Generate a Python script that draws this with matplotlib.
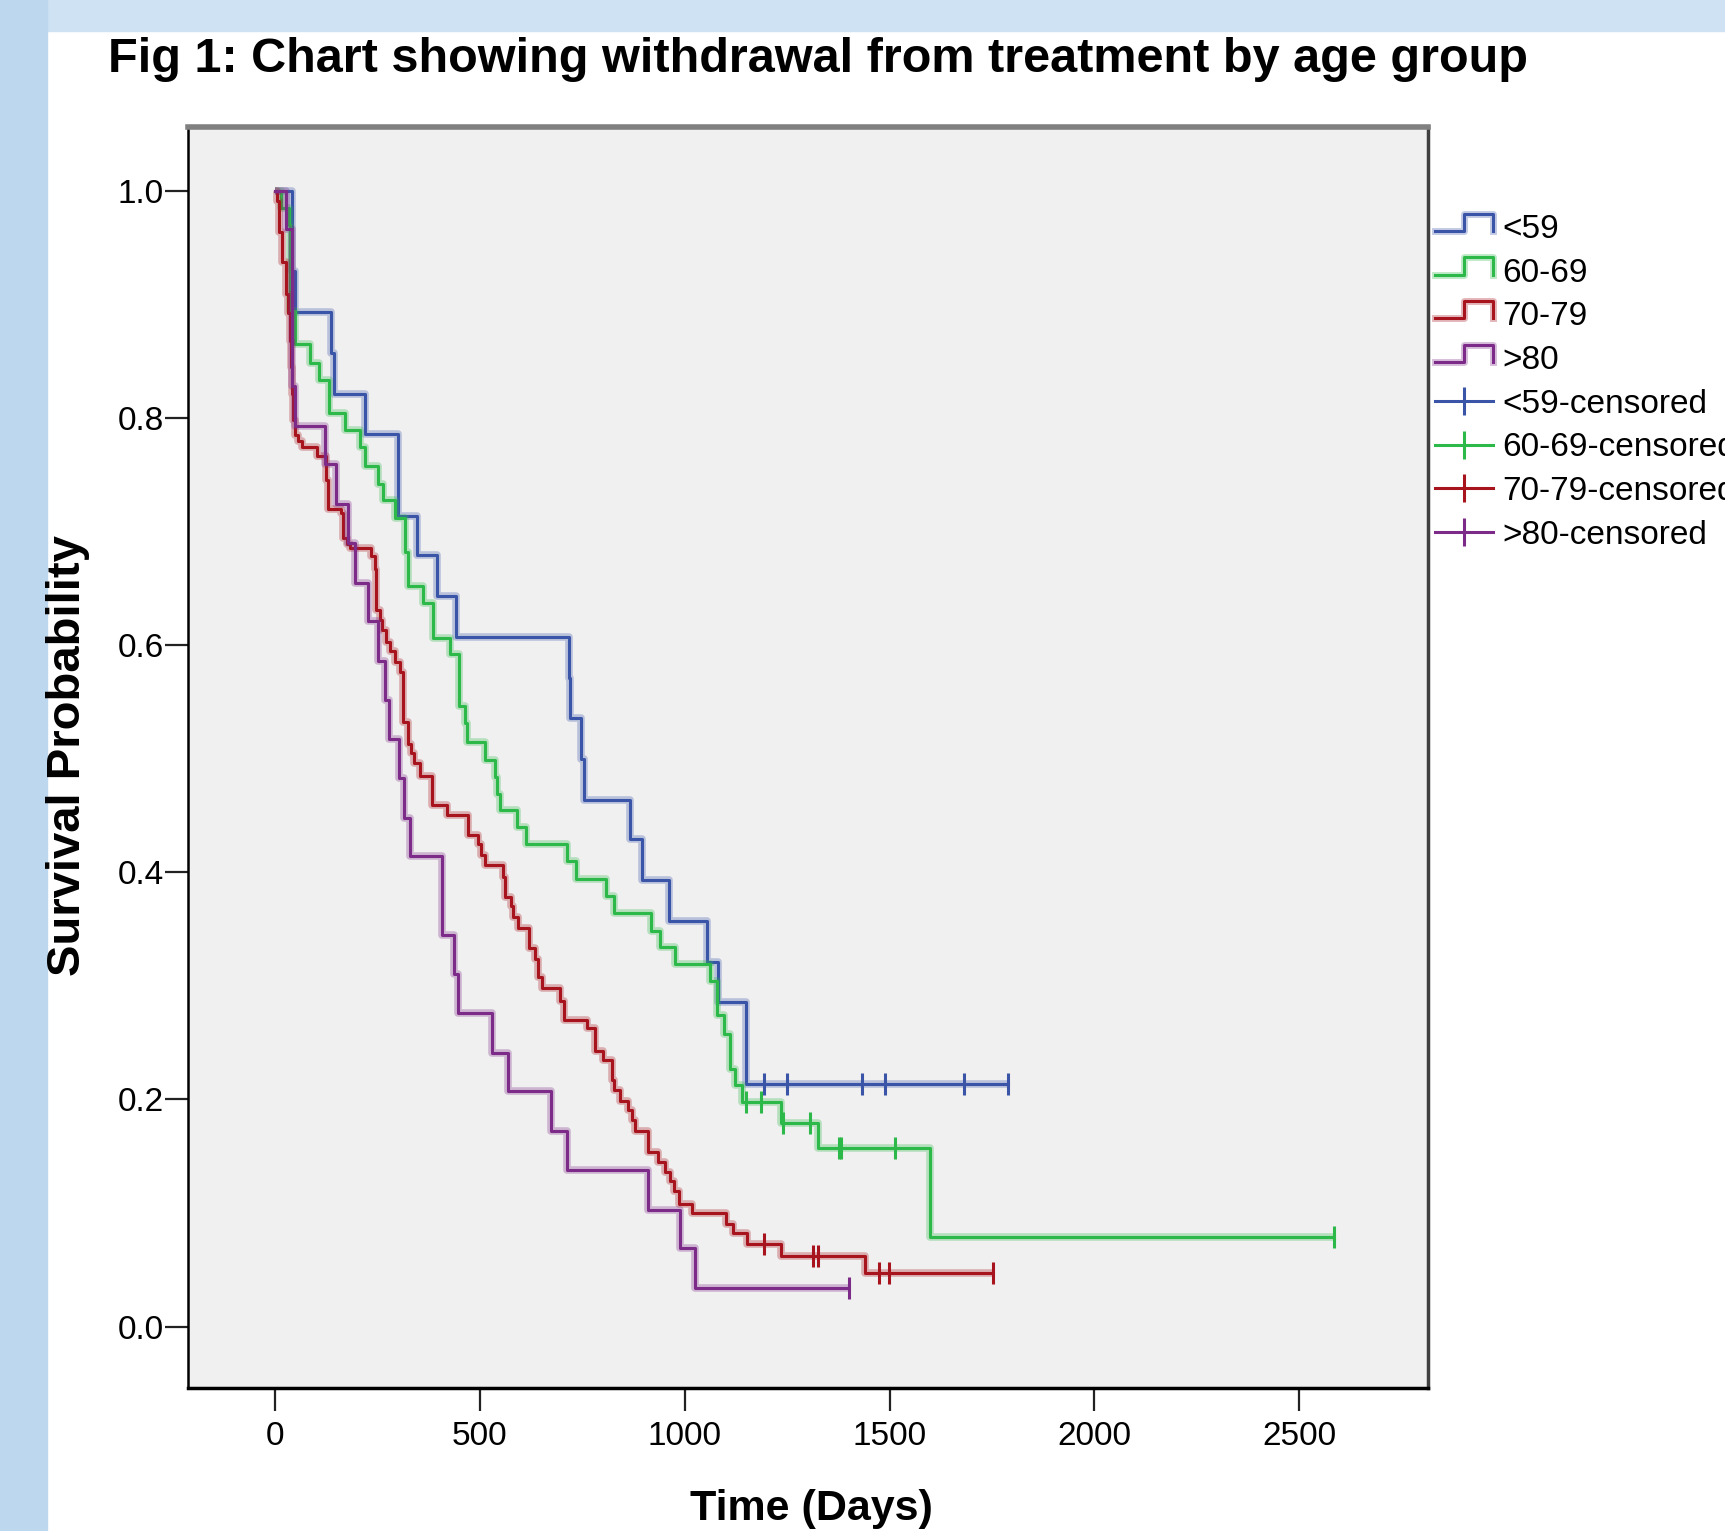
import numpy as np
import matplotlib.pyplot as plt
from matplotlib.lines import Line2D
from matplotlib.patches import Rectangle
from matplotlib.legend_handler import HandlerBase

plt.rcParams['font.family'] = ['Liberation Sans', 'DejaVu Sans']

# step points (time in days, survival), plus censored times
blue_t = [0, 41, 49, 138, 145, 221, 301, 346, 396, 443, 718, 721, 748, 755,
          866, 895, 963, 1054, 1082, 1149]
blue_s = [1, 0.929, 0.893, 0.857, 0.821, 0.786, 0.714, 0.679, 0.643, 0.607,
          0.571, 0.536, 0.500, 0.464, 0.429, 0.393, 0.357, 0.321, 0.286, 0.214]
blue_cens = [1194, 1249, 1432, 1489, 1682, 1788]

green_t = [0, 14, 35, 38, 50, 85, 108, 132, 171, 207, 220, 251, 264, 293, 317,
           324, 362, 386, 427, 449, 464, 470, 513, 537, 541, 549, 592, 612, 712,
           734, 807, 828, 918, 940, 976, 1062, 1078, 1095, 1110, 1123, 1141,
           1236, 1326, 1599]
green_s = [1, 0.985, 0.970, 0.894, 0.865, 0.848, 0.833, 0.804, 0.789, 0.774,
           0.758, 0.742, 0.728, 0.712, 0.682, 0.652, 0.637, 0.606, 0.592, 0.546,
           0.531, 0.515, 0.499, 0.484, 0.469, 0.455, 0.440, 0.425, 0.410, 0.394,
           0.379, 0.364, 0.348, 0.334, 0.319, 0.304, 0.274, 0.258, 0.227, 0.213,
           0.198, 0.179, 0.157, 0.0785]
green_cens = [1150, 1186, 1239, 1305, 1377, 1382, 1513, 2585]

red_t = [0, 4, 10, 18, 26, 33, 37, 39, 41, 44, 49, 57, 65, 102, 124, 129, 161,
         167, 175, 183, 234, 244, 248, 256, 262, 270, 281, 293, 305, 313, 324,
         332, 340, 354, 384, 421, 472, 496, 504, 513, 557, 561, 576, 582, 594,
         621, 635, 643, 653, 697, 705, 761, 781, 801, 822, 828, 842, 862, 871,
         879, 911, 934, 952, 964, 975, 985, 1019, 1102, 1119, 1151, 1235, 1439]
red_s = [1, 0.991, 0.964, 0.937, 0.909, 0.892, 0.868, 0.845, 0.821, 0.798,
         0.785, 0.780, 0.774, 0.766, 0.745, 0.720, 0.716, 0.694, 0.689, 0.685,
         0.678, 0.667, 0.631, 0.622, 0.613, 0.603, 0.595, 0.585, 0.576, 0.532,
         0.513, 0.505, 0.496, 0.485, 0.459, 0.450, 0.433, 0.425, 0.415, 0.406,
         0.396, 0.378, 0.370, 0.361, 0.351, 0.333, 0.324, 0.308, 0.298, 0.287,
         0.270, 0.263, 0.243, 0.235, 0.217, 0.208, 0.199, 0.191, 0.182, 0.172,
         0.154, 0.145, 0.136, 0.128, 0.119, 0.108, 0.100, 0.090, 0.082, 0.073,
         0.062, 0.047]
red_cens = [1194, 1312, 1326, 1475, 1498, 1752]

purple_t = [0, 26, 41, 49, 122, 150, 179, 195, 228, 251, 268, 278, 304, 316,
            330, 407, 438, 448, 529, 568, 674, 714, 911, 989, 1026]
purple_s = [1, 0.966, 0.828, 0.793, 0.759, 0.724, 0.690, 0.655, 0.621, 0.586,
            0.552, 0.517, 0.483, 0.448, 0.414, 0.345, 0.310, 0.276, 0.241,
            0.207, 0.172, 0.138, 0.103, 0.069, 0.034]
purple_cens = [1402]

groups = ['<59', '60-69', '70-79', '>80']
colors = ['#3a55a8', '#2db84a', '#a8141e', '#7d2b88']
all_t = [blue_t, green_t, red_t, purple_t]
all_s = [blue_s, green_s, red_s, purple_s]
all_c = [blue_cens, green_cens, red_cens, purple_cens]

W, H = 1725, 1531
fig = plt.figure(figsize=(W / 100, H / 100), dpi=100)
fig.patch.set_facecolor('white')

# light blue slide border
fig.patches.append(Rectangle((0, 1 - 31 / H), 1, 31 / H, transform=fig.transFigure,
                             color='#cfe2f3', zorder=0))
fig.patches.append(Rectangle((0, 0), 47 / W, 1, transform=fig.transFigure,
                             color='#bdd7ee', zorder=0))

fig.text(108 / W, 1 - 59 / H, 'Fig 1: Chart showing withdrawal from treatment by age group',
         fontsize=35, fontweight='bold', va='center', ha='left')

ax = fig.add_axes([188 / W, 1 - 1388 / H, 1240 / W, 1261 / H])
ax.set_facecolor('#f0f0f0')

for t, s, c, col in zip(all_t, all_s, all_c, colors):
    xs = list(t) + [max(c)]
    ys = list(s) + [s[-1]]
    ax.step(xs, ys, where='post', color=col, lw=5.5, alpha=0.3, solid_capstyle='butt')
    ax.step(xs, ys, where='post', color=col, lw=2.2)
    idx = np.searchsorted(t, c, side='right') - 1
    cy = np.array(s)[idx]
    ax.plot(c, cy, ls='none', marker='|', markersize=16, mew=2.2, color=col)

ax.set_xlim(-212, 2814)
ax.set_ylim(-0.054, 1.056)
ax.set_xticks([0, 500, 1000, 1500, 2000, 2500])
ax.set_yticks([0.0, 0.2, 0.4, 0.6, 0.8, 1.0])
ax.set_yticklabels(['0.0', '0.2', '0.4', '0.6', '0.8', '1.0'])
ax.tick_params(axis='both', direction='out', length=16.5, width=1.6, labelsize=24,
               color='#222222')
ax.tick_params(axis='y', pad=1)
ax.tick_params(axis='x', pad=7)

ax.spines['top'].set_color('#808080')
ax.spines['top'].set_linewidth(4)
ax.spines['right'].set_color('#404040')
ax.spines['right'].set_linewidth(2.5)
ax.spines['left'].set_color('black')
ax.spines['left'].set_linewidth(1.8)
ax.spines['bottom'].set_color('black')
ax.spines['bottom'].set_linewidth(2.5)

fig.text(68 / W, 1 - 756 / H, 'Survival Probability', fontsize=34, fontweight='bold',
         rotation=90, ha='center', va='center')
fig.text(811 / W, 1 - 1509 / H, 'Time (Days)', fontsize=31, fontweight='bold',
         ha='center', va='center')


# legend icon for the survival functions: a small step
class StepHandler(HandlerBase):
    def create_artists(self, legend, orig_handle, xdescent, ydescent, width, height,
                       fontsize, trans):
        x0 = -xdescent
        y0 = -ydescent
        xs = [x0, x0 + width * 0.5, x0 + width * 0.5, x0 + width, x0 + width]
        ys = [y0 + height * 0.3, y0 + height * 0.3, y0 + height * 1.05,
              y0 + height * 1.05, y0 + height * 0.3]
        col = orig_handle.get_color()
        halo = Line2D(xs, ys, color=col, lw=5, alpha=0.3, transform=trans)
        line = Line2D(xs, ys, color=col, lw=2.2, transform=trans)
        return [halo, line]


step_handles = [Line2D([], [], color=col) for col in colors]
cens_handles = [Line2D([], [], color=col, lw=2.2, marker='|', markersize=20, mew=2.2)
                for col in colors]
labels = groups + [g + '-censored' for g in groups]

fig.legend(step_handles + cens_handles, labels,
           handler_map={h: StepHandler() for h in step_handles},
           loc='upper left', bbox_to_anchor=(1435 / W, 1 - 214 / H),
           frameon=False, fontsize=24, borderpad=0, borderaxespad=0,
           handlelength=1.75, handletextpad=0.27, labelspacing=0.38)

fig.savefig('out.png', dpi=100)
